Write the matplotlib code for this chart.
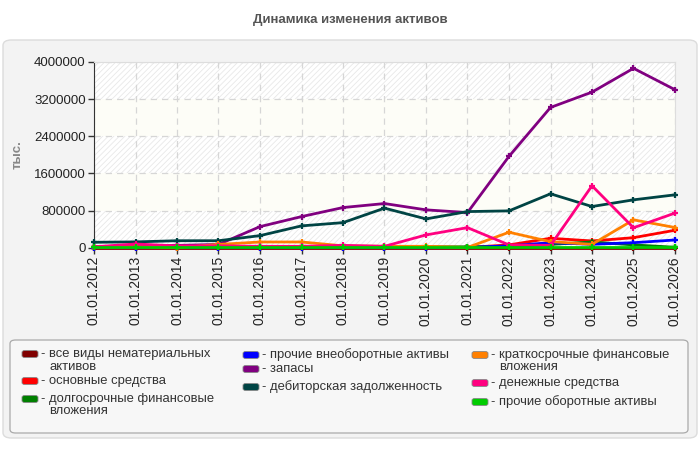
import matplotlib
matplotlib.use("Agg")
import matplotlib.pyplot as plt
from matplotlib.patches import FancyBboxPatch

plt.rcParams['font.family'] = ['Liberation Sans', 'DejaVu Sans']
plt.rcParams['hatch.linewidth'] = 0.6

dates = ["01.01.2012", "01.01.2013", "01.01.2014", "01.01.2015", "01.01.2016",
         "01.01.2017", "01.01.2018", "01.01.2019", "01.01.2020", "01.01.2021",
         "01.01.2022", "01.01.2023", "01.01.2024", "01.01.2025", "01.01.2026"]

names = ["все виды нематериальных\nактивов", "основные средства",
         "долгосрочные финансовые\nвложения", "прочие внеоборотные активы",
         "запасы", "дебиторская задолженность", "краткосрочные финансовые\nвложения",
         "денежные средства", "прочие оборотные активы"]
colors = ["#800000", "#ff0000", "#008000", "#0000ff", "#800080", "#004444",
          "#ff8000", "#ff0080", "#00cc00"]

nematerial = [1000, 1000, 1000, 1000, 1000, 1000, 1000, 1000, 1000, 1000, 1000, 1000, 1000, 1000, 1000]
osnovnye = [3000, 3000, 3000, 3000, 3000, 3000, 3000, 3000, 3000, 5000, 60000, 203000, 145000, 216000, 376000]
dolgosroch = [25000, 25000, 25000, 25000, 25000, 25000, 25000, 20000, 20000, 20000, 20000, 70000, 123000, 60000, 10000]
prochie_vneob = [2000, 2000, 2000, 2000, 2000, 2000, 2000, 2000, 2000, 5000, 40000, 108000, 73000, 108000, 166000]
zapasy = [20000, 40000, 50000, 70000, 454000, 670000, 865000, 951000, 815000, 757000, 1968000, 3021000, 3351000, 3864000, 3403000]
debitor = [117000, 125000, 150000, 150000, 260000, 470000, 540000, 852000, 620000, 778000, 793000, 1161000, 887000, 1031000, 1139000]
kratkosroch = [10000, 20000, 0, 70000, 123000, 123000, 40000, 30000, 30000, 5000, 333000, 130000, 73000, 600000, 435000]
denezhnye = [20000, 80000, 40000, 40000, 30000, 30000, 50000, 30000, 275000, 432000, 60000, 50000, 1334000, 430000, 746000]
prochie_obor = [5000, 5000, 5000, 5000, 5000, 5000, 5000, 5000, 5000, 5000, 5000, 5000, 5000, 5000, 5000]

series = [nematerial, osnovnye, dolgosroch, prochie_vneob, zapasy, debitor,
          kratkosroch, denezhnye, prochie_obor]

yticks = [0, 800000, 1600000, 2400000, 3200000, 4000000]

W, H = 700, 450
fig = plt.figure(figsize=(7, 4.5), dpi=100)
fig.patch.set_facecolor('white')

# outer panel
panel = FancyBboxPatch((3 / W, 12 / H), 694 / W, 398 / H,
                       boxstyle="round,pad=0,rounding_size=0.012",
                       transform=fig.transFigure, facecolor='#f3f3f3',
                       edgecolor='#dcdcdc', linewidth=1, zorder=-5)
fig.patches.append(panel)

fig.text(0.5, 1 - 20 / H, "Динамика изменения активов", ha='center', va='center',
         fontsize=9.5, fontweight='bold', color='#555555')

ax = fig.add_axes([94 / W, 1 - 247.7 / H, (675 - 94) / W, (247.7 - 62) / H])
ax.set_zorder(2)
ax.set_facecolor('#fdfdf7')
x = list(range(len(dates)))

# alternating bands
for i in range(len(yticks) - 1):
    if i % 2 == 0:
        ax.axhspan(yticks[i], yticks[i + 1], facecolor='white', edgecolor='#e8e8e8',
                   hatch='//////', linewidth=0, zorder=0)

ax.grid(True, color='#d6d6d6', linestyle=(0, (5, 4)), linewidth=0.9, zorder=1)
ax.set_axisbelow(True)

for vals, c in zip(series, colors):
    ax.plot(x, vals, color=c, linewidth=2, marker='+', markersize=5,
            markeredgewidth=1.6, zorder=3, clip_on=False)

ax.set_xlim(0, len(dates) - 1)
ax.set_ylim(0, 4000000)
ax.set_yticks(yticks)
ax.set_yticklabels([str(v) for v in yticks], fontsize=9.5, color='#222222')
ax.set_xticks(x)
ax.set_xticklabels(dates, rotation=90, fontsize=10, color='#222222')
ax.tick_params(axis='both', length=4, width=1, color='#333333', pad=2)
for s in ['top', 'right']:
    ax.spines[s].set_color('#dddddd')
for s in ['left', 'bottom']:
    ax.spines[s].set_color('#333333')

fig.text(18 / W, 1 - 155 / H, "тыс.", rotation=90, ha='center', va='center',
         fontsize=9.5, fontweight='bold', color='#888888')

# legend box
leg = FancyBboxPatch((10 / W, 1 - 433 / H), 678 / W, 93 / H,
                     boxstyle="round,pad=0,rounding_size=0.008",
                     transform=fig.transFigure, facecolor='#f7f7f7',
                     edgecolor='#aaaaaa', linewidth=0.9, zorder=1)
fig.patches.append(leg)

leg_pos = [(22, 354), (22, 381), (22, 399), (243, 355), (243, 369), (243, 387),
           (472, 355), (472, 383), (472, 402)]
for (lx, ly), name, c in zip(leg_pos, names, colors):
    sw = FancyBboxPatch((lx / W, 1 - (ly + 3.5) / H), 16 / W, 7 / H,
                        boxstyle="round,pad=0,rounding_size=0.004",
                        transform=fig.transFigure, facecolor=c,
                        edgecolor='#888888', linewidth=0.6, zorder=2)
    fig.patches.append(sw)
    lines = name.split("\n")
    fig.text((lx + 19) / W, 1 - ly / H, "- " + lines[0], ha='left', va='center',
             fontsize=9.4, color='#333333')
    for k, extra in enumerate(lines[1:]):
        fig.text((lx + 27) / W, 1 - (ly + 12.5 * (k + 1)) / H, extra, ha='left',
                 va='center', fontsize=9.4, color='#333333')

fig.savefig("out.png", dpi=100)
